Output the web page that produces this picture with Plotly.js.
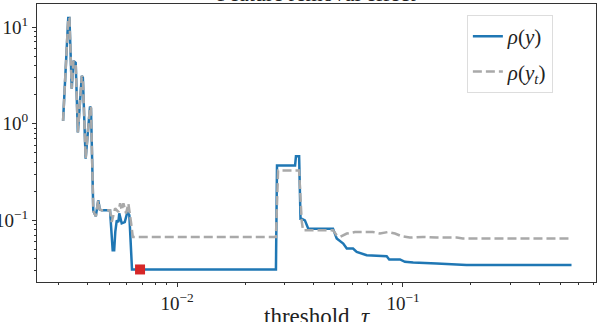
<!DOCTYPE html>
<html>
<head>
<meta charset="utf-8">
<script src="https://cdn.plot.ly/plotly-3.0.1.min.js"></script>
<style>
  html, body { margin: 0; padding: 0; background: #fff; }
  #grafica { width: 598px; height: 322px; }
</style>
</head>
<body>
<div id="grafica"></div>
<script>
// rho(y): curva azul
const umbral_y = [0.00313, 0.00330, 0.00334, 0.00342, 0.00348, 0.00356, 0.00364, 0.00379, 0.00383, 0.00389,
    0.00394, 0.00412, 0.00416, 0.00426, 0.00437, 0.00448, 0.00455, 0.00464, 0.00505, 0.00519,
    0.00527, 0.00533, 0.00541, 0.00550, 0.00555, 0.00569, 0.00587, 0.00603, 0.00615, 0.00632,
    0.0274, 0.0277, 0.0333, 0.0336, 0.0347, 0.0352, 0.0356, 0.0368, 0.0381, 0.0490,
    0.0509, 0.0544, 0.0564, 0.0601, 0.0624, 0.0691, 0.0847, 0.0869, 0.0970, 0.102,
    0.111, 0.141, 0.173, 0.191, 0.557];
const rho_y = [1.07, 12.4, 12.4, 2.3, 4.46, 4.25, 0.81, 3.13, 3.0, 0.85,
    0.435, 1.50, 1.45, 0.125, 0.11, 0.161, 0.13, 0.127, 0.127, 0.049,
    0.049, 0.076, 0.10, 0.096, 0.118, 0.093, 0.096, 0.122, 0.113, 0.031,
    0.031, 0.369, 0.369, 0.46, 0.46, 0.104, 0.104, 0.10, 0.082, 0.082,
    0.0648, 0.0575, 0.051, 0.051, 0.0471, 0.0435, 0.0425, 0.0394, 0.0394, 0.0372,
    0.0366, 0.0358, 0.0349, 0.0344, 0.0344];

// rho(y_t): curva gris discontinua
const umbral_yt = [0.00313, 0.00330, 0.00334, 0.00342, 0.00348, 0.00356, 0.00364, 0.00379, 0.00383, 0.00389,
    0.00394, 0.00412, 0.00416, 0.00426, 0.00437, 0.00448, 0.00455, 0.00464, 0.00505, 0.00514,
    0.00532, 0.00550, 0.00560, 0.00569, 0.00579, 0.00595, 0.00609, 0.00624, 0.00637, 0.0274,
    0.0280, 0.0347, 0.0356, 0.0361, 0.0490, 0.0509, 0.0526, 0.0564, 0.0613, 0.0736,
    0.0791, 0.0859, 0.0922, 0.0987, 0.107, 0.1225, 0.141, 0.173, 0.184, 0.55];
const rho_yt = [1.07, 12.4, 12.4, 2.3, 4.46, 4.25, 0.81, 3.13, 3.0, 0.85,
    0.435, 1.50, 1.45, 0.125, 0.11, 0.161, 0.13, 0.127, 0.127, 0.096,
    0.133, 0.122, 0.15, 0.127, 0.15, 0.118, 0.149, 0.10, 0.0673, 0.0673,
    0.327, 0.327, 0.10, 0.0789, 0.0789, 0.070, 0.0673, 0.073, 0.0757, 0.0757,
    0.073, 0.0757, 0.073, 0.0684, 0.0663, 0.0673, 0.0663, 0.0663, 0.0648, 0.0648];

// punto elegido (cuadrado rojo)
const umbral_sel = [0.00686];
const rho_sel = [0.031];

// marcas de los ejes
const ticks_x = [0.01, 0.1];
const minor_x = [0.003, 0.004, 0.005, 0.006, 0.007, 0.008, 0.009, 0.02, 0.03, 0.04, 0.05, 0.06, 0.07, 0.08, 0.09, 0.2, 0.3, 0.4, 0.5, 0.6, 0.7];
const ticks_y = [0.1, 1, 10];
const minor_y = [0.03, 0.04, 0.05, 0.06, 0.07, 0.08, 0.09, 0.2, 0.3, 0.4, 0.5, 0.6, 0.7, 0.8, 0.9, 2, 3, 4, 5, 6, 7, 8, 9];

const fuente = '"Liberation Serif", "DejaVu Serif", serif';

const trazaY = {
    x: umbral_y, y: rho_y,
    name: '<i>ρ</i>(<i>y</i>)',
    mode: 'lines',
    line: { color: '#1f77b4', width: 2.5 },
    legendgroup: 'a',
};
const trazaYt = {
    x: umbral_yt, y: rho_yt,
    name: '<i>ρ</i>(<i>y<sub>t</sub></i>)',
    mode: 'lines',
    line: { color: '#a9a9a9', width: 2.5, dash: '9px,4px' },
    legendgroup: 'b',
};
const trazaSel = {
    x: umbral_sel, y: rho_sel,
    mode: 'markers',
    marker: { symbol: 'square', size: 10, color: '#d62728' },
    showlegend: false,
};

const ejeComun = {
    type: 'log',
    showgrid: false,
    zeroline: false,
    showline: true,
    mirror: true,
    linecolor: '#333',
    linewidth: 1,
    ticks: 'outside',
    ticklen: 4,
    tickcolor: '#333',
    tickmode: 'array',
    exponentformat: 'power',
    tickfont: { family: fuente, size: 19, color: '#222' },
};

const layout = {
    width: 598,
    height: 322,
    margin: { l: 37, r: 2, t: 4, b: 40 },
    paper_bgcolor: '#fff',
    plot_bgcolor: '#fff',
    xaxis: Object.assign({}, ejeComun, {
        range: [Math.log10(0.0024), Math.log10(0.715)],
        tickvals: ticks_x,
        ticktext: ['10<sup>−2</sup>', '10<sup>−1</sup>'],
        minor: { tickmode: 'array', tickvals: minor_x, ticks: 'outside', ticklen: 2, tickcolor: '#333' },
    }),
    yaxis: Object.assign({}, ejeComun, {
        range: [Math.log10(0.0230), Math.log10(17.3)],
        tickvals: ticks_y,
        ticktext: ['10<sup>−1</sup>', '10<sup>0</sup>', '10<sup>1</sup>'],
        minor: { tickmode: 'array', tickvals: minor_y, ticks: 'outside', ticklen: 2, tickcolor: '#333' },
    }),
    showlegend: true,
    legend: {
        x: 0.769, y: 0.96,
        xanchor: 'left', yanchor: 'top',
        bgcolor: 'rgba(255,255,255,0.8)',
        bordercolor: '#ddd',
        borderwidth: 1,
        traceorder: 'grouped',
        tracegroupgap: 5,
        font: { family: fuente, size: 21, color: '#222' },
    },
    annotations: [{
        text: 'Feature removal effect',
        xref: 'paper', yref: 'paper',
        x: 0.5, y: 1,
        xanchor: 'center', yanchor: 'bottom',
        yshift: -4,
        showarrow: false,
        font: { family: fuente, size: 22, color: '#222' },
    }, {
        // titulo del eje x
        text: 'threshold, <i>τ</i>',
        xref: 'paper', yref: 'paper',
        x: 0.5, y: 0,
        xanchor: 'center', yanchor: 'top',
        yshift: -20,
        showarrow: false,
        font: { family: fuente, size: 23, color: '#222' },
    }],
};

Plotly.newPlot('grafica', [trazaY, trazaYt, trazaSel], layout, { displayModeBar: false, staticPlot: true });
</script>
</body>
</html>
